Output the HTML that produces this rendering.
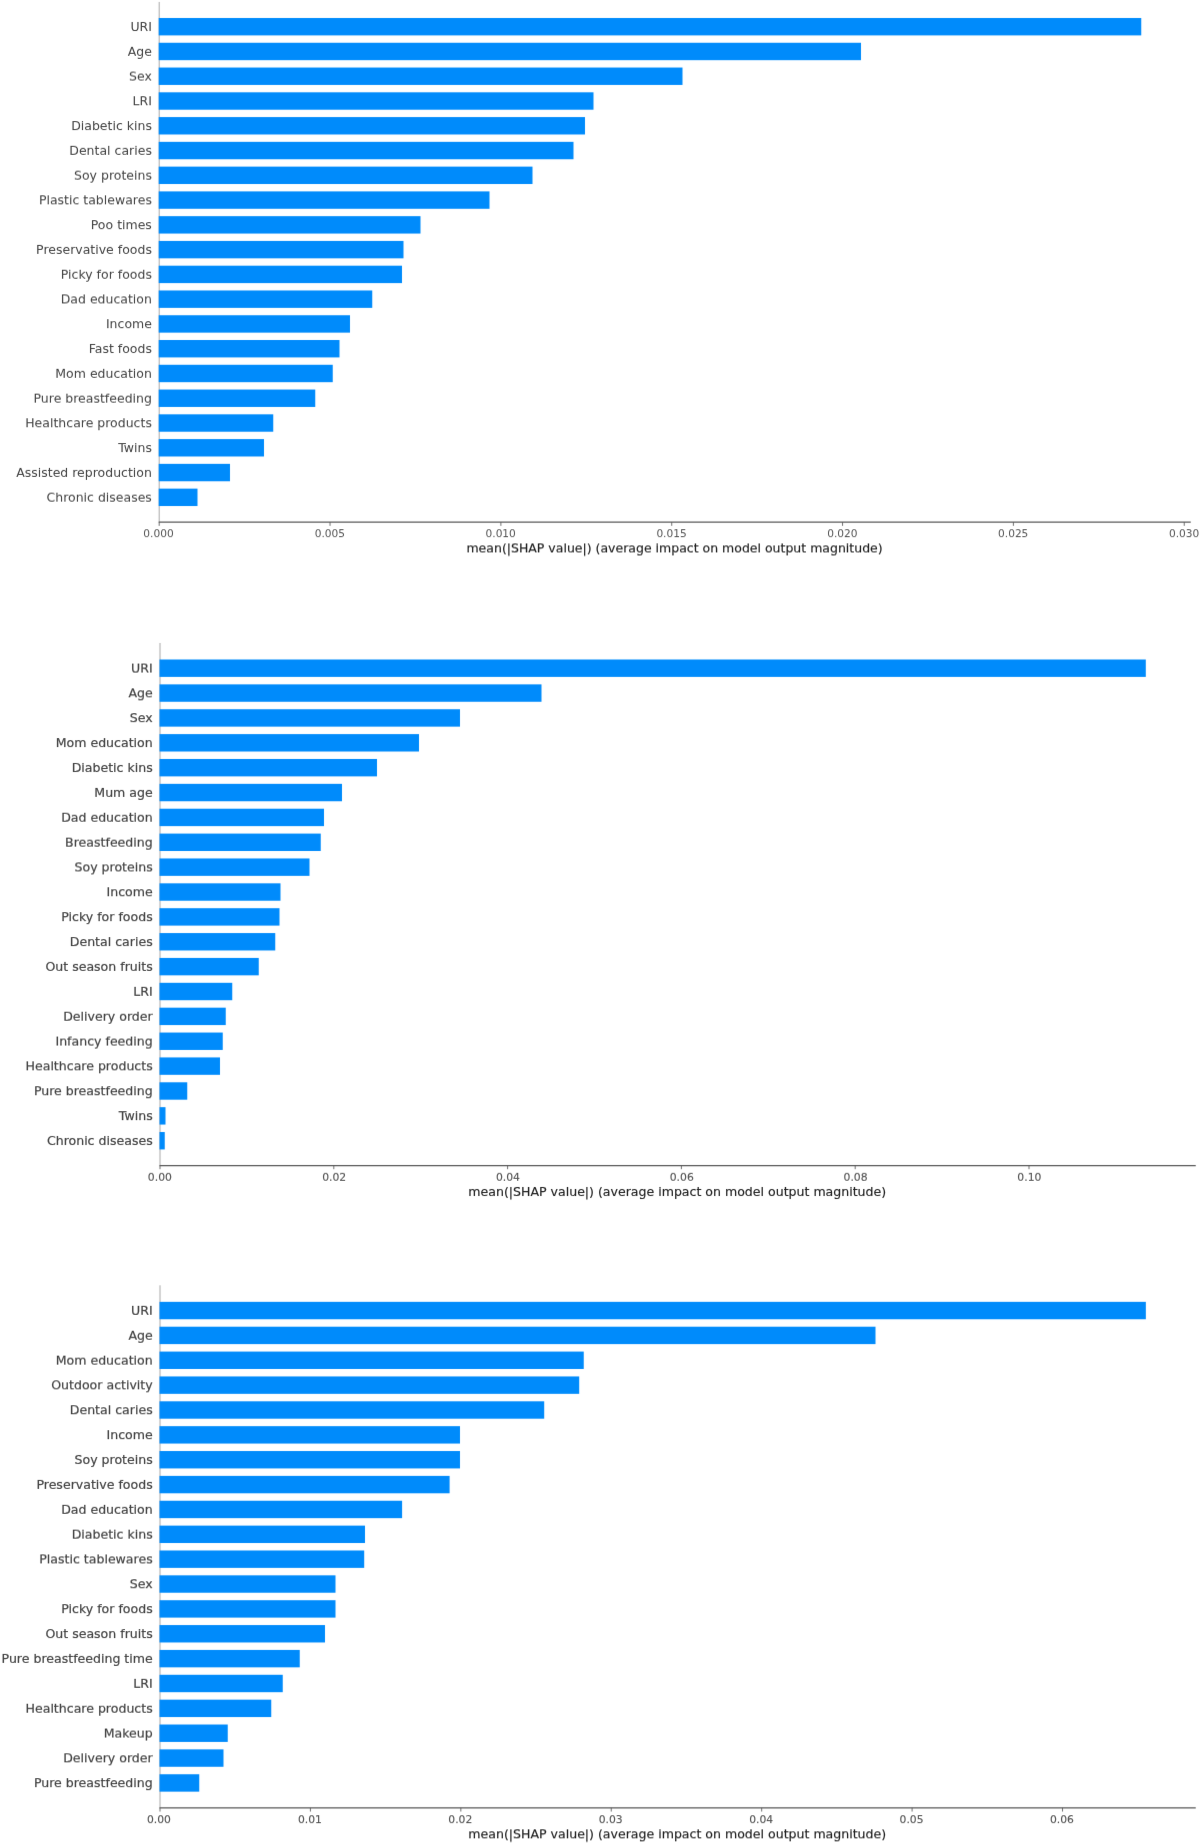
<!DOCTYPE html>
<html lang="en">
<head>
<meta charset="utf-8">
<title>SHAP summary bar plots</title>
<style>
html,body{margin:0;padding:0;background:#fff;}
body{width:1200px;height:1843px;overflow:hidden;}
svg{display:block;}
text{font-family:"DejaVu Sans","Liberation Sans",sans-serif;}
.yl{fill:#444444;text-anchor:end;}
.tl{fill:#555555;text-anchor:middle;}
.xl{fill:#222222;stroke:#222222;stroke-width:0.15px;text-anchor:middle;}
.bar{fill:#008bfb;}
.ax{stroke:#585858;stroke-width:1.25;fill:none;}
.tk{stroke:#555;stroke-width:0.85;fill:none;}
.ay{stroke:#a8a8a8;stroke-width:1.0;fill:none;}
</style>
</head>
<body>
<svg width="1200" height="1843" viewBox="0 0 1200 1843">
<defs>
<filter id="t0" x="-20" y="-6" width="1240" height="1860" filterUnits="userSpaceOnUse" color-interpolation-filters="sRGB"><feConvolveMatrix order="3" kernelMatrix="0.0154 0.4092 0.0154 0.0196 0.5208 0.0196 0.0000 0.0000 0.0000" edgeMode="none" preserveAlpha="false"/></filter>
<filter id="t1" x="-20" y="-6" width="1240" height="1860" filterUnits="userSpaceOnUse" color-interpolation-filters="sRGB"><feConvolveMatrix order="3" kernelMatrix="0.0121 0.3209 0.0121 0.0229 0.6091 0.0229 0.0000 0.0000 0.0000" edgeMode="none" preserveAlpha="false"/></filter>
<filter id="t2" x="-20" y="-6" width="1240" height="1860" filterUnits="userSpaceOnUse" color-interpolation-filters="sRGB"><feConvolveMatrix order="3" kernelMatrix="0.0091 0.2418 0.0091 0.0259 0.6882 0.0259 0.0000 0.0000 0.0000" edgeMode="none" preserveAlpha="false"/></filter>
<filter id="t3" x="-20" y="-6" width="1240" height="1860" filterUnits="userSpaceOnUse" color-interpolation-filters="sRGB"><feConvolveMatrix order="3" kernelMatrix="0.0065 0.1720 0.0065 0.0285 0.7579 0.0285 0.0000 0.0000 0.0000" edgeMode="none" preserveAlpha="false"/></filter>
<filter id="t4" x="-20" y="-6" width="1240" height="1860" filterUnits="userSpaceOnUse" color-interpolation-filters="sRGB"><feConvolveMatrix order="3" kernelMatrix="0.0042 0.1116 0.0042 0.0301 0.7998 0.0301 0.0007 0.0186 0.0007" edgeMode="none" preserveAlpha="false"/></filter>
<filter id="s5" x="-20" y="-6" width="1240" height="1860" filterUnits="userSpaceOnUse" color-interpolation-filters="sRGB"><feConvolveMatrix order="3" kernelMatrix="0.0042 0.0566 0.0042 0.0566 0.7569 0.0566 0.0042 0.0566 0.0042" edgeMode="none" preserveAlpha="false"/></filter>
<filter id="t5" x="-20" y="-6" width="1240" height="1860" filterUnits="userSpaceOnUse" color-interpolation-filters="sRGB"><feConvolveMatrix order="3" kernelMatrix="0.0023 0.0604 0.0023 0.0305 0.8091 0.0305 0.0023 0.0604 0.0023" edgeMode="none" preserveAlpha="false"/></filter>
<filter id="t6" x="-20" y="-6" width="1240" height="1860" filterUnits="userSpaceOnUse" color-interpolation-filters="sRGB"><feConvolveMatrix order="3" kernelMatrix="0.0007 0.0186 0.0007 0.0301 0.7998 0.0301 0.0042 0.1116 0.0042" edgeMode="none" preserveAlpha="false"/></filter>
<filter id="t7" x="-20" y="-6" width="1240" height="1860" filterUnits="userSpaceOnUse" color-interpolation-filters="sRGB"><feConvolveMatrix order="3" kernelMatrix="0.0000 0.0000 0.0000 0.0285 0.7579 0.0285 0.0065 0.1720 0.0065" edgeMode="none" preserveAlpha="false"/></filter>
<filter id="t8" x="-20" y="-6" width="1240" height="1860" filterUnits="userSpaceOnUse" color-interpolation-filters="sRGB"><feConvolveMatrix order="3" kernelMatrix="0.0000 0.0000 0.0000 0.0259 0.6882 0.0259 0.0091 0.2418 0.0091" edgeMode="none" preserveAlpha="false"/></filter>
<filter id="t9" x="-20" y="-6" width="1240" height="1860" filterUnits="userSpaceOnUse" color-interpolation-filters="sRGB"><feConvolveMatrix order="3" kernelMatrix="0.0000 0.0000 0.0000 0.0229 0.6091 0.0229 0.0121 0.3209 0.0121" edgeMode="none" preserveAlpha="false"/></filter>
<filter id="t10" x="-20" y="-6" width="1240" height="1860" filterUnits="userSpaceOnUse" color-interpolation-filters="sRGB"><feConvolveMatrix order="3" kernelMatrix="0.0000 0.0000 0.0000 0.0196 0.5208 0.0196 0.0154 0.4092 0.0154" edgeMode="none" preserveAlpha="false"/></filter>
</defs>
<rect x="0" y="0" width="1200" height="1843" fill="#ffffff"/>
<g id="chart1" filter="url(#s5)">
<line class="ay" x1="159.2" y1="1.93" x2="159.2" y2="522.15"/>
<rect class="bar" x="158.70" y="18.00" width="982.55" height="17.4"/>
<rect class="bar" x="158.70" y="42.77" width="702.30" height="17.4"/>
<rect class="bar" x="158.70" y="67.54" width="523.80" height="17.4"/>
<rect class="bar" x="158.70" y="92.31" width="434.80" height="17.4"/>
<rect class="bar" x="158.70" y="117.08" width="426.30" height="17.4"/>
<rect class="bar" x="158.70" y="141.85" width="414.80" height="17.4"/>
<rect class="bar" x="158.70" y="166.62" width="373.80" height="17.4"/>
<rect class="bar" x="158.70" y="191.39" width="330.80" height="17.4"/>
<rect class="bar" x="158.70" y="216.16" width="261.80" height="17.4"/>
<rect class="bar" x="158.70" y="240.93" width="244.80" height="17.4"/>
<rect class="bar" x="158.70" y="265.70" width="243.30" height="17.4"/>
<rect class="bar" x="158.70" y="290.47" width="213.55" height="17.4"/>
<rect class="bar" x="158.70" y="315.24" width="191.30" height="17.4"/>
<rect class="bar" x="158.70" y="340.01" width="180.80" height="17.4"/>
<rect class="bar" x="158.70" y="364.78" width="174.05" height="17.4"/>
<rect class="bar" x="158.70" y="389.55" width="156.55" height="17.4"/>
<rect class="bar" x="158.70" y="414.32" width="114.55" height="17.4"/>
<rect class="bar" x="158.70" y="439.09" width="105.30" height="17.4"/>
<rect class="bar" x="158.70" y="463.86" width="71.30" height="17.4"/>
<rect class="bar" x="158.70" y="488.63" width="38.80" height="17.4"/>
<line class="ax" x1="158.7" y1="522.15" x2="1190.75" y2="522.15"/>
<line class="tk" x1="159.20" y1="522.15" x2="159.20" y2="525.85"/>
<line class="tk" x1="330.04" y1="522.15" x2="330.04" y2="525.85"/>
<line class="tk" x1="500.88" y1="522.15" x2="500.88" y2="525.85"/>
<line class="tk" x1="671.72" y1="522.15" x2="671.72" y2="525.85"/>
<line class="tk" x1="842.56" y1="522.15" x2="842.56" y2="525.85"/>
<line class="tk" x1="1013.40" y1="522.15" x2="1013.40" y2="525.85"/>
<line class="tk" x1="1184.24" y1="522.15" x2="1184.24" y2="525.85"/>
</g>
<g id="chart2" filter="url(#s5)">
<line class="ay" x1="160.0" y1="643.0" x2="160.0" y2="1165.5"/>
<rect class="bar" x="159.50" y="659.50" width="986.30" height="17.4"/>
<rect class="bar" x="159.50" y="684.37" width="382.00" height="17.4"/>
<rect class="bar" x="159.50" y="709.24" width="300.50" height="17.4"/>
<rect class="bar" x="159.50" y="734.11" width="259.50" height="17.4"/>
<rect class="bar" x="159.50" y="758.98" width="217.50" height="17.4"/>
<rect class="bar" x="159.50" y="783.85" width="182.50" height="17.4"/>
<rect class="bar" x="159.50" y="808.72" width="164.50" height="17.4"/>
<rect class="bar" x="159.50" y="833.59" width="161.25" height="17.4"/>
<rect class="bar" x="159.50" y="858.46" width="150.00" height="17.4"/>
<rect class="bar" x="159.50" y="883.33" width="121.00" height="17.4"/>
<rect class="bar" x="159.50" y="908.20" width="120.00" height="17.4"/>
<rect class="bar" x="159.50" y="933.07" width="115.75" height="17.4"/>
<rect class="bar" x="159.50" y="957.94" width="99.25" height="17.4"/>
<rect class="bar" x="159.50" y="982.81" width="72.75" height="17.4"/>
<rect class="bar" x="159.50" y="1007.68" width="66.25" height="17.4"/>
<rect class="bar" x="159.50" y="1032.55" width="63.25" height="17.4"/>
<rect class="bar" x="159.50" y="1057.42" width="60.50" height="17.4"/>
<rect class="bar" x="159.50" y="1082.29" width="27.75" height="17.4"/>
<rect class="bar" x="159.50" y="1107.16" width="6.00" height="17.4"/>
<rect class="bar" x="159.50" y="1132.03" width="5.25" height="17.4"/>
<line class="ax" x1="159.5" y1="1165.5" x2="1195.75" y2="1165.5"/>
<line class="tk" x1="160.00" y1="1165.5" x2="160.00" y2="1169.2"/>
<line class="tk" x1="333.80" y1="1165.5" x2="333.80" y2="1169.2"/>
<line class="tk" x1="507.60" y1="1165.5" x2="507.60" y2="1169.2"/>
<line class="tk" x1="681.40" y1="1165.5" x2="681.40" y2="1169.2"/>
<line class="tk" x1="855.20" y1="1165.5" x2="855.20" y2="1169.2"/>
<line class="tk" x1="1029.00" y1="1165.5" x2="1029.00" y2="1169.2"/>
</g>
<g id="chart3" filter="url(#s5)">
<line class="ay" x1="160.0" y1="1285.3" x2="160.0" y2="1807.85"/>
<rect class="bar" x="159.50" y="1301.85" width="986.35" height="17.4"/>
<rect class="bar" x="159.50" y="1326.71" width="716.00" height="17.4"/>
<rect class="bar" x="159.50" y="1351.58" width="424.25" height="17.4"/>
<rect class="bar" x="159.50" y="1376.44" width="419.70" height="17.4"/>
<rect class="bar" x="159.50" y="1401.30" width="384.70" height="17.4"/>
<rect class="bar" x="159.50" y="1426.16" width="300.50" height="17.4"/>
<rect class="bar" x="159.50" y="1451.03" width="300.50" height="17.4"/>
<rect class="bar" x="159.50" y="1475.89" width="290.10" height="17.4"/>
<rect class="bar" x="159.50" y="1500.75" width="242.60" height="17.4"/>
<rect class="bar" x="159.50" y="1525.62" width="205.50" height="17.4"/>
<rect class="bar" x="159.50" y="1550.48" width="204.70" height="17.4"/>
<rect class="bar" x="159.50" y="1575.34" width="176.00" height="17.4"/>
<rect class="bar" x="159.50" y="1600.21" width="176.00" height="17.4"/>
<rect class="bar" x="159.50" y="1625.07" width="165.50" height="17.4"/>
<rect class="bar" x="159.50" y="1649.93" width="140.25" height="17.4"/>
<rect class="bar" x="159.50" y="1674.79" width="123.25" height="17.4"/>
<rect class="bar" x="159.50" y="1699.66" width="111.75" height="17.4"/>
<rect class="bar" x="159.50" y="1724.52" width="68.25" height="17.4"/>
<rect class="bar" x="159.50" y="1749.38" width="64.00" height="17.4"/>
<rect class="bar" x="159.50" y="1774.25" width="39.75" height="17.4"/>
<line class="ax" x1="159.5" y1="1807.85" x2="1195.75" y2="1807.85"/>
<line class="tk" x1="160.00" y1="1807.85" x2="160.00" y2="1811.55"/>
<line class="tk" x1="310.42" y1="1807.85" x2="310.42" y2="1811.55"/>
<line class="tk" x1="460.84" y1="1807.85" x2="460.84" y2="1811.55"/>
<line class="tk" x1="611.26" y1="1807.85" x2="611.26" y2="1811.55"/>
<line class="tk" x1="761.68" y1="1807.85" x2="761.68" y2="1811.55"/>
<line class="tk" x1="912.10" y1="1807.85" x2="912.10" y2="1811.55"/>
<line class="tk" x1="1062.52" y1="1807.85" x2="1062.52" y2="1811.55"/>
</g>
<g filter="url(#t0)">
<text class="yl" font-size="12.50" transform="translate(151.90,81) scale(1,0.96)">Sex</text>
<text class="yl" font-size="12.55" stroke="#444444" stroke-width="0.2" transform="translate(152.70,673) scale(1,0.96)">URI</text>
<text class="yl" font-size="12.55" stroke="#444444" stroke-width="0.2" transform="translate(152.70,1046) scale(1,0.96)">Infancy feeding</text>
<text class="yl" font-size="12.55" stroke="#444444" stroke-width="0.2" transform="translate(152.70,1738) scale(1,0.96)">Makeup</text>
</g>
<g filter="url(#t1)">
<text class="yl" font-size="12.50" transform="translate(151.90,180) scale(1,0.96)">Soy proteins</text>
<text class="yl" font-size="12.50" transform="translate(151.90,403) scale(1,0.96)">Pure breastfeeding</text>
<text class="yl" font-size="12.50" transform="translate(151.90,502) scale(1,0.96)">Chronic diseases</text>
<text class="yl" font-size="12.55" stroke="#444444" stroke-width="0.2" transform="translate(152.70,847) scale(1,0.96)">Breastfeeding</text>
<text class="yl" font-size="12.55" stroke="#444444" stroke-width="0.2" transform="translate(152.70,1365) scale(1,0.96)">Mom education</text>
<text class="yl" font-size="12.55" stroke="#444444" stroke-width="0.2" transform="translate(152.70,1539) scale(1,0.96)">Diabetic kins</text>
</g>
<g filter="url(#t2)">
<text class="yl" font-size="12.50" transform="translate(151.90,279) scale(1,0.96)">Picky for foods</text>
<text class="yl" font-size="12.55" stroke="#444444" stroke-width="0.2" transform="translate(152.70,822) scale(1,0.96)">Dad education</text>
<text class="yl" font-size="12.55" stroke="#444444" stroke-width="0.2" transform="translate(152.70,1021) scale(1,0.96)">Delivery order</text>
<text class="yl" font-size="12.55" stroke="#444444" stroke-width="0.2" transform="translate(152.70,1340) scale(1,0.96)">Age</text>
<text class="yl" font-size="12.55" stroke="#444444" stroke-width="0.2" transform="translate(152.70,1713) scale(1,0.96)">Healthcare products</text>
</g>
<g filter="url(#t3)">
<text class="yl" font-size="12.50" transform="translate(151.90,56) scale(1,0.96)">Age</text>
<text class="yl" font-size="12.50" transform="translate(151.90,155) scale(1,0.96)">Dental caries</text>
<text class="yl" font-size="12.50" transform="translate(151.90,378) scale(1,0.96)">Mom education</text>
<text class="yl" font-size="12.55" stroke="#444444" stroke-width="0.2" transform="translate(152.70,996) scale(1,0.96)">LRI</text>
<text class="tl" font-size="10.81" stroke="#555555" stroke-width="0.12" transform="translate(159.85,1181) scale(1,0.96)">0.00</text>
<text class="tl" font-size="10.81" stroke="#555555" stroke-width="0.12" transform="translate(334.15,1181) scale(1,0.96)">0.02</text>
<text class="tl" font-size="10.81" stroke="#555555" stroke-width="0.12" transform="translate(507.95,1181) scale(1,0.96)">0.04</text>
<text class="tl" font-size="10.81" stroke="#555555" stroke-width="0.12" transform="translate(681.75,1181) scale(1,0.96)">0.06</text>
<text class="tl" font-size="10.81" stroke="#555555" stroke-width="0.12" transform="translate(855.55,1181) scale(1,0.96)">0.08</text>
<text class="tl" font-size="10.81" stroke="#555555" stroke-width="0.12" transform="translate(1029.35,1181) scale(1,0.96)">0.10</text>
<text class="yl" font-size="12.55" stroke="#444444" stroke-width="0.2" transform="translate(152.70,1315) scale(1,0.96)">URI</text>
<text class="yl" font-size="12.55" stroke="#444444" stroke-width="0.2" transform="translate(152.70,1514) scale(1,0.96)">Dad education</text>
<text class="yl" font-size="12.55" stroke="#444444" stroke-width="0.2" transform="translate(152.70,1688) scale(1,0.96)">LRI</text>
</g>
<g filter="url(#t4)">
<text class="yl" font-size="12.50" transform="translate(151.90,254) scale(1,0.96)">Preservative foods</text>
<text class="yl" font-size="12.50" transform="translate(151.90,477) scale(1,0.96)">Assisted reproduction</text>
<text class="yl" font-size="12.55" stroke="#444444" stroke-width="0.2" transform="translate(152.70,797) scale(1,0.96)">Mum age</text>
<text class="yl" font-size="12.55" stroke="#444444" stroke-width="0.2" transform="translate(152.70,971) scale(1,0.96)">Out season fruits</text>
<text class="yl" font-size="12.55" stroke="#444444" stroke-width="0.2" transform="translate(152.70,1489) scale(1,0.96)">Preservative foods</text>
<text class="yl" font-size="12.55" stroke="#444444" stroke-width="0.2" transform="translate(152.70,1663) scale(1,0.96)">Pure breastfeeding time</text>
</g>
<g filter="url(#t5)">
<text class="yl" font-size="12.50" transform="translate(151.90,31) scale(1,0.96)">URI</text>
<text class="yl" font-size="12.50" transform="translate(151.90,353) scale(1,0.96)">Fast foods</text>
<text class="yl" font-size="12.55" stroke="#444444" stroke-width="0.2" transform="translate(152.70,772) scale(1,0.96)">Diabetic kins</text>
<text class="yl" font-size="12.55" stroke="#444444" stroke-width="0.2" transform="translate(152.70,1145) scale(1,0.96)">Chronic diseases</text>
<text class="xl" font-size="12.55" transform="translate(677.25,1196) scale(1,0.96)">mean(|SHAP value|) (average impact on model output magnitude)</text>
<text class="yl" font-size="12.55" stroke="#444444" stroke-width="0.2" transform="translate(152.70,1464) scale(1,0.96)">Soy proteins</text>
</g>
<g filter="url(#t6)">
<text class="yl" font-size="12.50" transform="translate(151.90,130) scale(1,0.96)">Diabetic kins</text>
<text class="yl" font-size="12.50" transform="translate(151.90,452) scale(1,0.96)">Twins</text>
<text class="yl" font-size="12.55" stroke="#444444" stroke-width="0.2" transform="translate(152.70,747) scale(1,0.96)">Mom education</text>
<text class="yl" font-size="12.55" stroke="#444444" stroke-width="0.2" transform="translate(152.70,946) scale(1,0.96)">Dental caries</text>
<text class="yl" font-size="12.55" stroke="#444444" stroke-width="0.2" transform="translate(152.70,1638) scale(1,0.96)">Out season fruits</text>
</g>
<g filter="url(#t7)">
<text class="yl" font-size="12.50" transform="translate(151.90,229) scale(1,0.96)">Poo times</text>
<text class="yl" font-size="12.50" transform="translate(151.90,328) scale(1,0.96)">Income</text>
<text class="tl" font-size="10.60" transform="translate(158.50,537) scale(1,0.96)">0.000</text>
<text class="tl" font-size="10.60" transform="translate(329.84,537) scale(1,0.96)">0.005</text>
<text class="tl" font-size="10.60" transform="translate(500.68,537) scale(1,0.96)">0.010</text>
<text class="tl" font-size="10.60" transform="translate(671.52,537) scale(1,0.96)">0.015</text>
<text class="tl" font-size="10.60" transform="translate(842.36,537) scale(1,0.96)">0.020</text>
<text class="tl" font-size="10.60" transform="translate(1013.20,537) scale(1,0.96)">0.025</text>
<text class="tl" font-size="10.60" transform="translate(1184.04,537) scale(1,0.96)">0.030</text>
<text class="yl" font-size="12.55" stroke="#444444" stroke-width="0.2" transform="translate(152.70,722) scale(1,0.96)">Sex</text>
<text class="yl" font-size="12.55" stroke="#444444" stroke-width="0.2" transform="translate(152.70,921) scale(1,0.96)">Picky for foods</text>
<text class="yl" font-size="12.55" stroke="#444444" stroke-width="0.2" transform="translate(152.70,1120) scale(1,0.96)">Twins</text>
<text class="yl" font-size="12.55" stroke="#444444" stroke-width="0.2" transform="translate(152.70,1439) scale(1,0.96)">Income</text>
<text class="yl" font-size="12.55" stroke="#444444" stroke-width="0.2" transform="translate(152.70,1613) scale(1,0.96)">Picky for foods</text>
<text class="yl" font-size="12.55" stroke="#444444" stroke-width="0.2" transform="translate(152.70,1787) scale(1,0.96)">Pure breastfeeding</text>
<text class="tl" font-size="10.76" stroke="#555555" stroke-width="0.12" transform="translate(158.95,1823) scale(1,0.96)">0.00</text>
<text class="tl" font-size="10.76" stroke="#555555" stroke-width="0.12" transform="translate(309.87,1823) scale(1,0.96)">0.01</text>
<text class="tl" font-size="10.76" stroke="#555555" stroke-width="0.12" transform="translate(460.29,1823) scale(1,0.96)">0.02</text>
<text class="tl" font-size="10.76" stroke="#555555" stroke-width="0.12" transform="translate(610.71,1823) scale(1,0.96)">0.03</text>
<text class="tl" font-size="10.76" stroke="#555555" stroke-width="0.12" transform="translate(761.13,1823) scale(1,0.96)">0.04</text>
<text class="tl" font-size="10.76" stroke="#555555" stroke-width="0.12" transform="translate(911.55,1823) scale(1,0.96)">0.05</text>
<text class="tl" font-size="10.76" stroke="#555555" stroke-width="0.12" transform="translate(1061.97,1823) scale(1,0.96)">0.06</text>
</g>
<g filter="url(#t8)">
<text class="yl" font-size="12.50" transform="translate(151.90,105) scale(1,0.96)">LRI</text>
<text class="yl" font-size="12.50" transform="translate(151.90,427) scale(1,0.96)">Healthcare products</text>
<text class="yl" font-size="12.55" stroke="#444444" stroke-width="0.2" transform="translate(152.70,896) scale(1,0.96)">Income</text>
<text class="yl" font-size="12.55" stroke="#444444" stroke-width="0.2" transform="translate(152.70,1095) scale(1,0.96)">Pure breastfeeding</text>
<text class="yl" font-size="12.55" stroke="#444444" stroke-width="0.2" transform="translate(152.70,1414) scale(1,0.96)">Dental caries</text>
<text class="yl" font-size="12.55" stroke="#444444" stroke-width="0.2" transform="translate(152.70,1588) scale(1,0.96)">Sex</text>
</g>
<g filter="url(#t9)">
<text class="yl" font-size="12.50" transform="translate(151.90,204) scale(1,0.96)">Plastic tablewares</text>
<text class="yl" font-size="12.55" stroke="#444444" stroke-width="0.2" transform="translate(152.70,697) scale(1,0.96)">Age</text>
<text class="yl" font-size="12.55" stroke="#444444" stroke-width="0.2" transform="translate(152.70,1070) scale(1,0.96)">Healthcare products</text>
<text class="yl" font-size="12.55" stroke="#444444" stroke-width="0.2" transform="translate(152.70,1389) scale(1,0.96)">Outdoor activity</text>
<text class="yl" font-size="12.55" stroke="#444444" stroke-width="0.2" transform="translate(152.70,1762) scale(1,0.96)">Delivery order</text>
<text class="xl" font-size="12.55" transform="translate(677.25,1838) scale(1,0.96)">mean(|SHAP value|) (average impact on model output magnitude)</text>
</g>
<g filter="url(#t10)">
<text class="yl" font-size="12.50" transform="translate(151.90,303) scale(1,0.96)">Dad education</text>
<text class="xl" font-size="12.50" transform="translate(674.55,552) scale(1,0.96)">mean(|SHAP value|) (average impact on model output magnitude)</text>
<text class="yl" font-size="12.55" stroke="#444444" stroke-width="0.2" transform="translate(152.70,871) scale(1,0.96)">Soy proteins</text>
<text class="yl" font-size="12.55" stroke="#444444" stroke-width="0.2" transform="translate(152.70,1563) scale(1,0.96)">Plastic tablewares</text>
</g>
</svg>
</body>
</html>
